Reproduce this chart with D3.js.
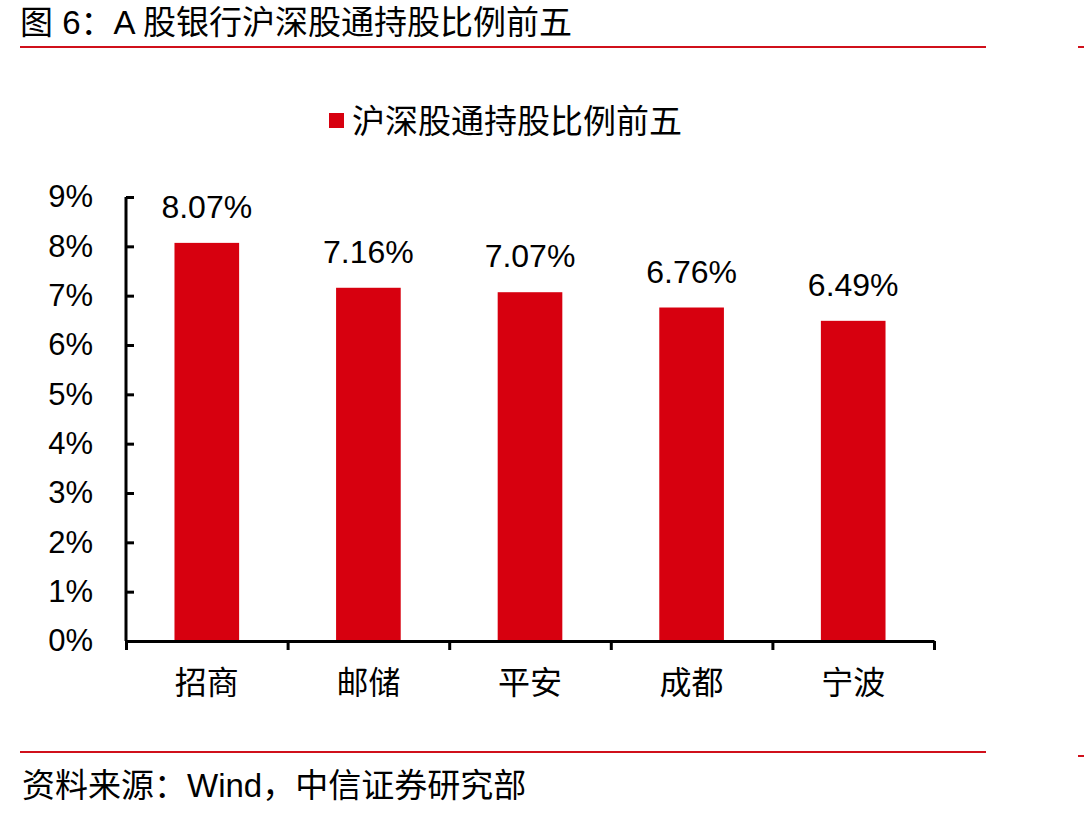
<!DOCTYPE html>
<html>
<head>
<meta charset="utf-8">
<script src="https://cdn.jsdelivr.net/npm/d3@7"></script>
<style>
  body { margin: 0; background: #fff; }
  text { font-family: "Liberation Sans", Arial, "Noto Sans CJK SC", sans-serif; fill: #000; }
</style>
</head>
<body>
<script>
// chart data
var banks = ["招商", "邮储", "平安", "成都", "宁波"];
var ratios = [8.07, 7.16, 7.07, 6.76, 6.49];
var yTicks = [0, 1, 2, 3, 4, 5, 6, 7, 8, 9];
var seriesName = "沪深股通持股比例前五";
var titleText = "图 6：A 股银行沪深股通持股比例前五";
var sourceText = "资料来源：Wind，中信证券研究部";

var width = 1084, height = 817;
var red = "#d7000f";
var lineRed = "#d0101b";

var svg = d3.select("body").append("svg")
    .attr("width", width)
    .attr("height", height);

// header / footer
svg.append("text").attr("x", 20).attr("y", 34)
    .attr("font-size", "33px").text(titleText);
svg.append("line").attr("x1", 20).attr("x2", 986).attr("y1", 47).attr("y2", 47)
    .attr("stroke", lineRed).attr("stroke-width", 2);
svg.append("line").attr("x1", 1078).attr("x2", 1084).attr("y1", 47).attr("y2", 47)
    .attr("stroke", lineRed).attr("stroke-width", 2);
svg.append("line").attr("x1", 20).attr("x2", 986).attr("y1", 752).attr("y2", 752)
    .attr("stroke", lineRed).attr("stroke-width", 2);
svg.append("line").attr("x1", 1078).attr("x2", 1084).attr("y1", 756).attr("y2", 756)
    .attr("stroke", lineRed).attr("stroke-width", 2);
svg.append("text").attr("x", 22).attr("y", 797)
    .attr("font-size", "33px").text(sourceText);

// legend
svg.append("rect").attr("x", 329).attr("y", 113).attr("width", 15).attr("height", 15)
    .attr("fill", red);
svg.append("text").attr("x", 352).attr("y", 133)
    .attr("font-size", "33px").text(seriesName);

// plot area
var plotLeft = 126, plotRight = 934, plotTop = 197, plotBottom = 641;

var x = d3.scaleBand()
    .domain(banks)
    .range([plotLeft, plotRight])
    .paddingInner(0.6)
    .paddingOuter(0.3);

var xEdge = d3.scaleLinear().domain([0, banks.length]).range([plotLeft, plotRight]);

var y = d3.scaleLinear().domain([0, 9]).range([plotBottom, plotTop]);

// bars
svg.selectAll("rect.bar")
    .data(ratios)
    .enter()
    .append("rect")
    .attr("class", "bar")
    .attr("x", function(d, i) { return x(banks[i]); })
    .attr("y", function(d) { return y(d); })
    .attr("width", x.bandwidth())
    .attr("height", function(d) { return plotBottom - y(d); })
    .attr("fill", red);

// value labels
svg.selectAll("text.val")
    .data(ratios)
    .enter()
    .append("text")
    .attr("class", "val")
    .attr("x", function(d, i) { return x(banks[i]) + x.bandwidth() / 2; })
    .attr("y", function(d) { return y(d) - 25; })
    .attr("text-anchor", "middle")
    .attr("font-size", "32px")
    .text(function(d) { return d.toFixed(2) + "%"; });

// y axis
var yAxis = svg.append("g")
    .attr("transform", "translate(" + plotLeft + ",0)")
    .call(d3.axisLeft(y).tickValues(yTicks).tickSize(-8).tickPadding(33)
        .tickFormat(function(d) { return d + "%"; }));
yAxis.selectAll("path, line").attr("stroke", "#000").attr("stroke-width", 3);
yAxis.select("path").attr("d", "M0," + plotTop + "V" + plotBottom);
yAxis.selectAll("text").attr("font-size", "31px")
    .attr("font-family", "'Liberation Sans', Arial, sans-serif").attr("fill", "#000");

// x axis: boundary ticks
var xAxis = svg.append("g")
    .attr("transform", "translate(0," + plotBottom + ")")
    .call(d3.axisBottom(xEdge).tickValues(d3.range(banks.length + 1)).tickSize(9)
        .tickSizeOuter(0).tickFormat(""));
xAxis.selectAll("path, line").attr("stroke", "#000").attr("stroke-width", 3);

// category labels
svg.selectAll("text.cat")
    .data(banks)
    .enter()
    .append("text")
    .attr("class", "cat")
    .attr("x", function(d) { return x(d) + x.bandwidth() / 2; })
    .attr("y", 694)
    .attr("text-anchor", "middle")
    .attr("font-size", "32px")
    .text(function(d) { return d; });
</script>
</body>
</html>
